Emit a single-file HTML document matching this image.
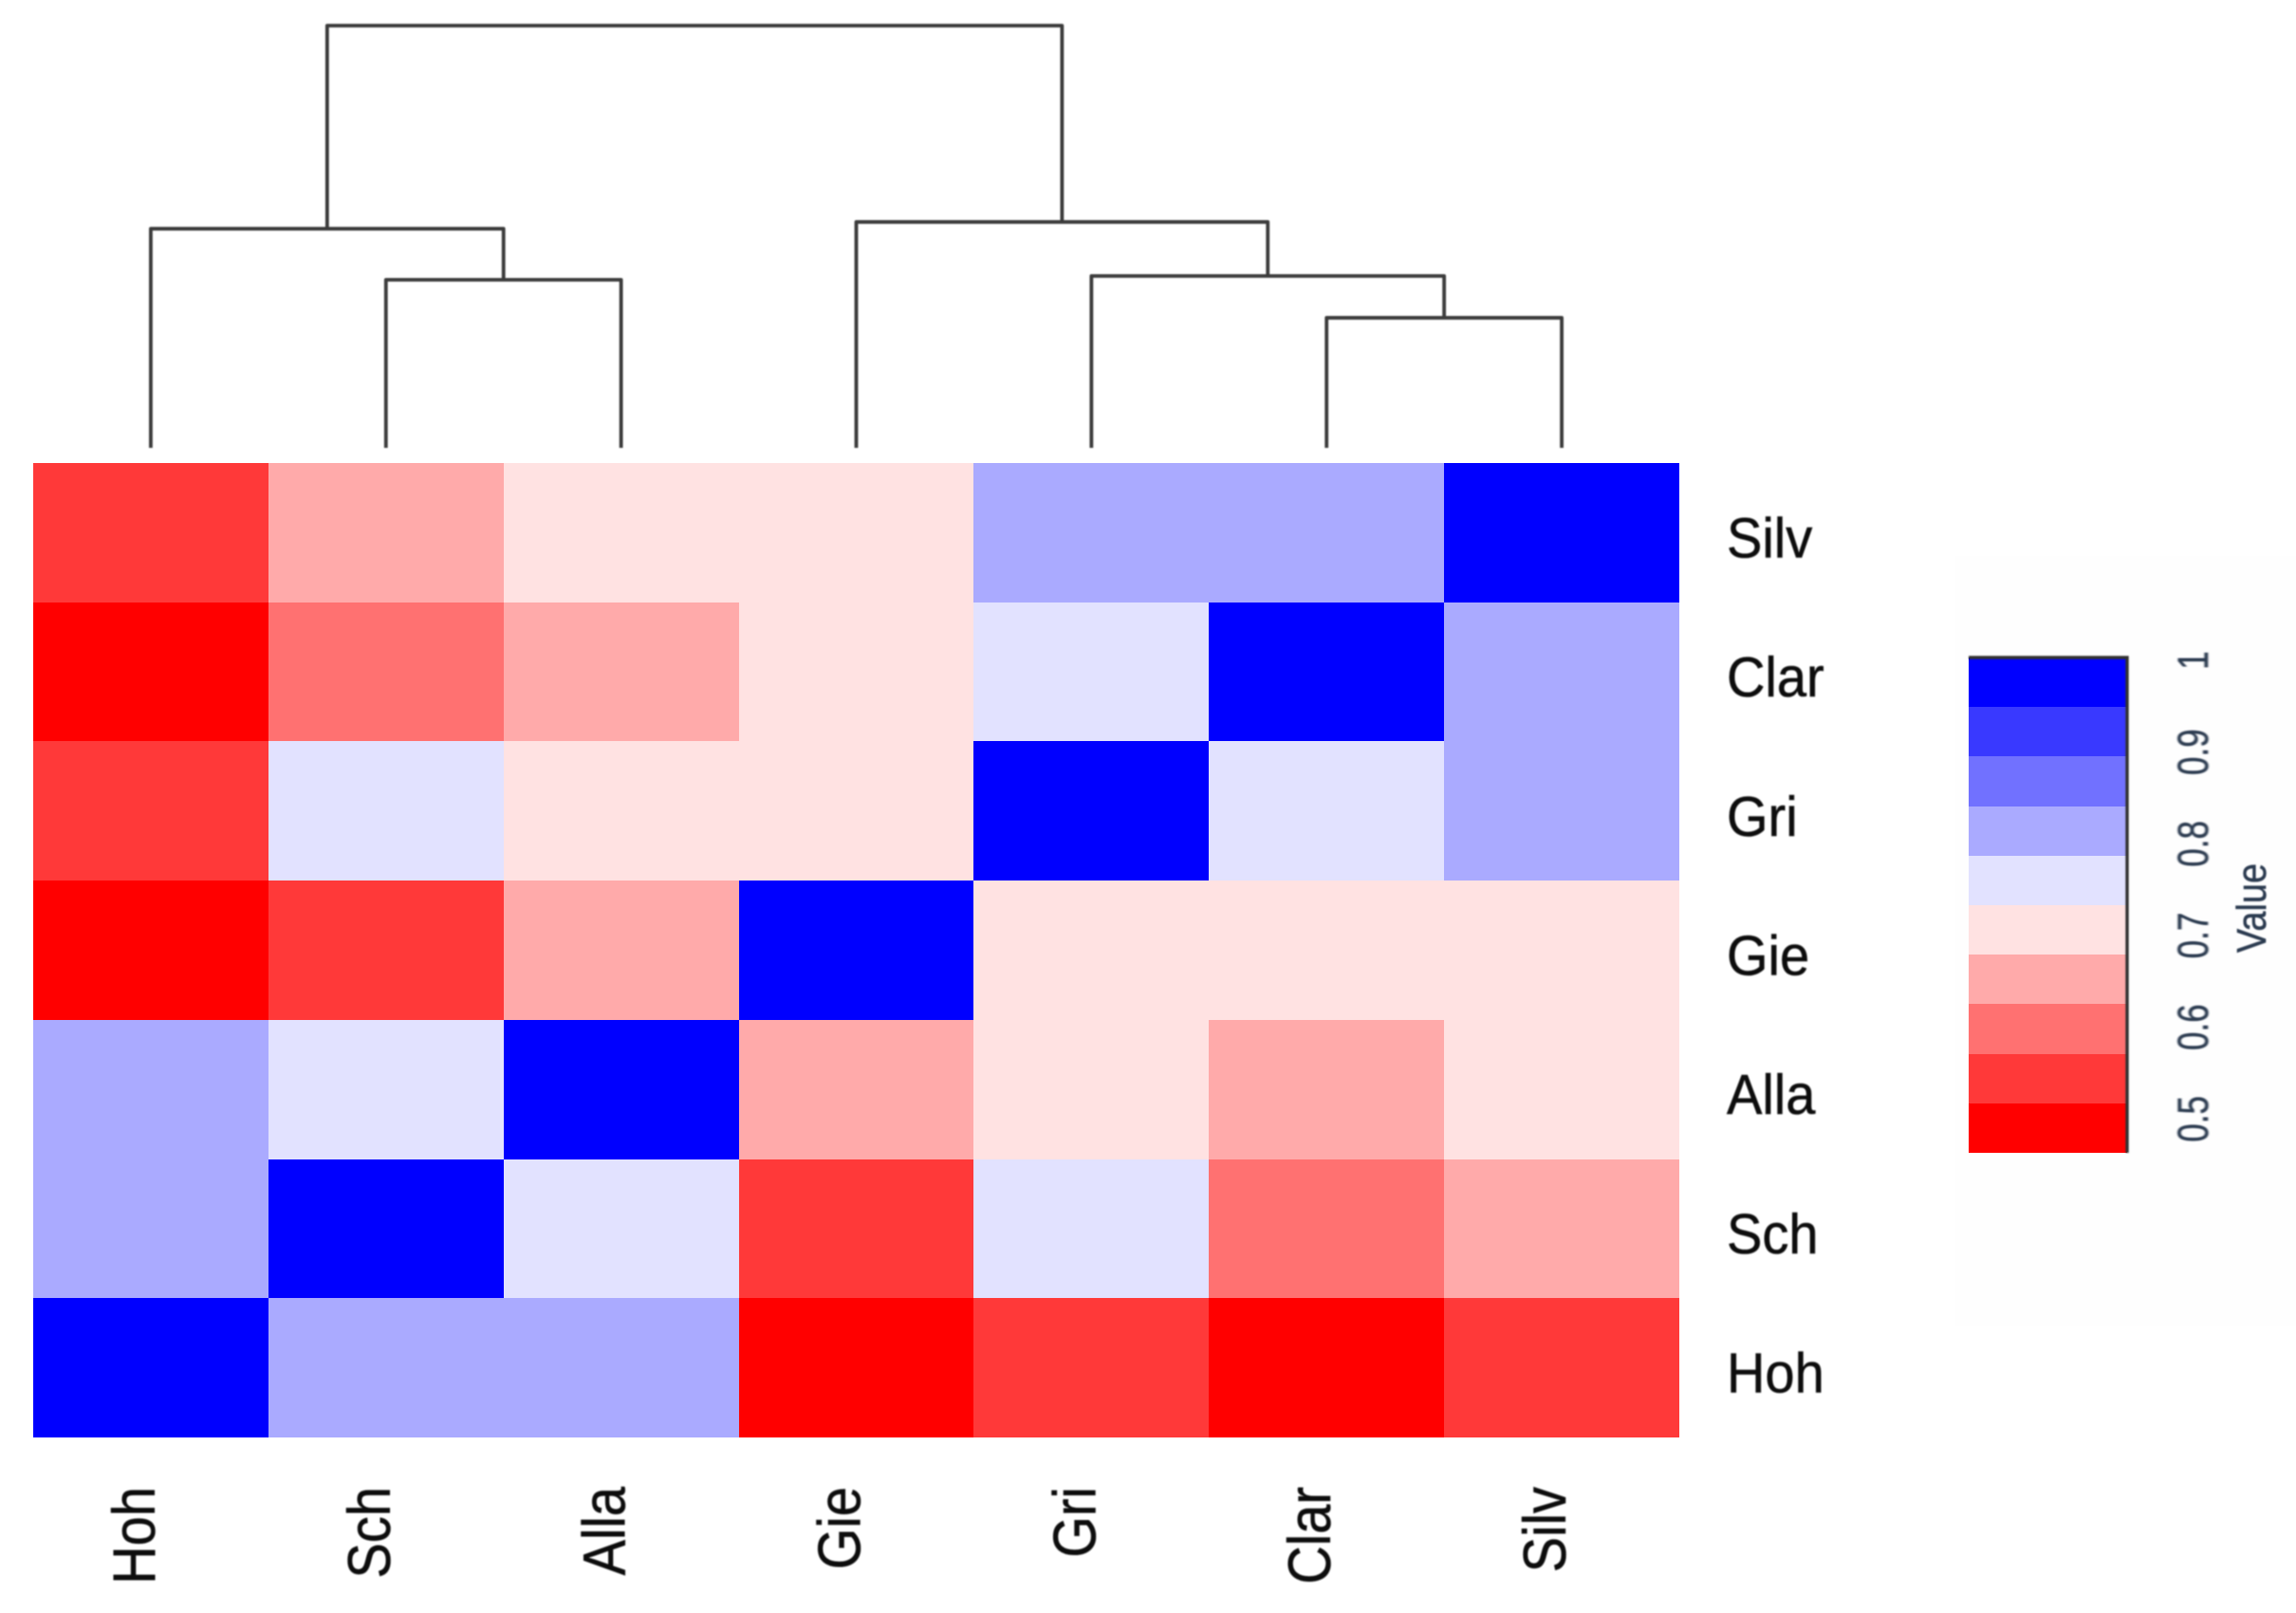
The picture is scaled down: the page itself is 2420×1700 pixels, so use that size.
<!DOCTYPE html>
<html lang="en">
<head>
<meta charset="utf-8">
<title>Similarity heatmap with dendrogram</title>
<style>
html,body{margin:0;padding:0;background:#fff;width:2420px;height:1700px;overflow:hidden}
svg{display:block}
text{font-family:"Liberation Sans",Arial,sans-serif}
</style>
</head>
<body>
<svg id="chart" xmlns="http://www.w3.org/2000/svg" width="2420" height="1700" viewBox="0 0 2420 1700">
  <defs>
    <filter id="soft" x="-5%" y="-5%" width="110%" height="110%"><feGaussianBlur stdDeviation="0.8"/></filter>
  </defs>
  <rect x="0" y="0" width="2420" height="1700" fill="#ffffff"/>
  <rect x="2061" y="586" width="359" height="811" fill="#fefefe"/>
  <g id="cells" shape-rendering="crispEdges"></g>
  <g id="dendro" fill="none" stroke="#3a3a3a" stroke-width="3.8" stroke-linejoin="round" filter="url(#soft)"></g>
  <g id="rowLabels" fill="#111" stroke="#111" stroke-width="0.5" font-size="56" filter="url(#soft)"></g>
  <g id="colLabels" fill="#111" stroke="#111" stroke-width="0.5" font-size="56" filter="url(#soft)"></g>
  <g id="legend"></g>
</svg>
<script>
// ---- data ----
const columnNames = ['Hoh', 'Sch', 'Alla', 'Gie', 'Gri', 'Clar', 'Silv'];
const rowNames = ['Silv', 'Clar', 'Gri', 'Gie', 'Alla', 'Sch', 'Hoh'];
const valuesSilv = [0.54, 0.65, 0.70, 0.70, 0.81, 0.81, 1.00];
const valuesClar = [0.49, 0.60, 0.65, 0.70, 0.76, 1.00, 0.81];
const valuesGri  = [0.54, 0.76, 0.70, 0.70, 1.00, 0.76, 0.81];
const valuesGie  = [0.49, 0.54, 0.65, 1.00, 0.70, 0.70, 0.70];
const valuesAlla = [0.81, 0.76, 1.00, 0.65, 0.70, 0.65, 0.70];
const valuesSch  = [0.81, 1.00, 0.76, 0.54, 0.76, 0.60, 0.65];
const valuesHoh  = [1.00, 0.81, 0.81, 0.49, 0.54, 0.49, 0.54];
const matrixRows = [valuesSilv, valuesClar, valuesGri, valuesGie, valuesAlla, valuesSch, valuesHoh];
const palette = ['#ff0000', '#ff3939', '#ff7171', '#ffaaaa', '#ffe2e2', '#e2e2ff', '#aaaaff', '#7171ff', '#3939ff', '#0000ff'];
const legendTicks = [1, 0.9, 0.8, 0.7, 0.6, 0.5];
const legendTickLabels = ['1', '0.9', '0.8', '0.7', '0.6', '0.5'];
const valueMin = 0.46;
const valueMax = 1;
// dendrogram merges: a/b are column names or earlier merge ids; heights are relative to the root
const mergeIds = ['SA', 'HSA', 'CS', 'GCS', 'GGCS', 'root'];
const mergeLeft = ['Sch', 'Hoh', 'Clar', 'Gri', 'Gie', 'HSA'];
const mergeRight = ['Alla', 'SA', 'Silv', 'CS', 'GCS', 'GGCS'];
const mergeHeights = [0.398, 0.519, 0.308, 0.407, 0.535, 1];

// ---- axis functions ----
const NS = 'http://www.w3.org/2000/svg';
const plotLeft = 35, plotRight = 1770, plotTop = 488, plotBottom = 1515;
const xCol = i => plotLeft + i * (plotRight - plotLeft) / columnNames.length;
const yRow = i => plotTop + i * (plotBottom - plotTop) / rowNames.length;
const dendroBase = 472, dendroTop = 27;
const yHeight = h => dendroBase - h * (dendroBase - dendroTop);
const legendTop = 693, legendBottom = 1215, legendLeft = 2075, legendRight = 2242;
const yLegend = v => legendTop + (valueMax - v) * (legendBottom - legendTop) / (valueMax - valueMin);
const colorFor = v => {
  const k = Math.floor((v - valueMin) / (valueMax - valueMin) * palette.length);
  return palette[Math.max(0, Math.min(palette.length - 1, k))];
};
const el = (tag, attrs) => {
  const node = document.createElementNS(NS, tag);
  for (const k in attrs) node.setAttribute(k, attrs[k]);
  return node;
};

// ---- heatmap cells ----
const cellsG = document.getElementById('cells');
matrixRows.forEach((vals, r) => {
  vals.forEach((v, c) => {
    const rect = el('rect', {
      x: Math.round(xCol(c)), y: Math.round(yRow(r)),
      width: Math.round(xCol(c + 1)) - Math.round(xCol(c)),
      height: Math.round(yRow(r + 1)) - Math.round(yRow(r)),
      fill: colorFor(v)
    });
    
    
    cellsG.appendChild(rect);
  });
});

// ---- dendrogram ----
const dendroG = document.getElementById('dendro');
const nodePos = {};
columnNames.forEach((n, i) => { nodePos[n] = { x: (xCol(i) + xCol(i + 1)) / 2, y: dendroBase }; });
mergeIds.forEach((id, i) => {
  const a = nodePos[mergeLeft[i]], b = nodePos[mergeRight[i]];
  const y = yHeight(mergeHeights[i]);
  const path = el('path', { d: 'M' + a.x + ' ' + a.y + 'V' + y + 'H' + b.x + 'V' + b.y });
  
  
  dendroG.appendChild(path);
  nodePos[id] = { x: (a.x + b.x) / 2, y: y };
});

// ---- row labels ----
const rowG = document.getElementById('rowLabels');
rowNames.forEach((n, r) => {
  const t = el('text', { transform: 'translate(1820,' + ((yRow(r) + yRow(r + 1)) / 2 + 26) + ') scale(1,1.06)' });
  t.textContent = n;
  
  
  rowG.appendChild(t);
});

// ---- column labels ----
const colG = document.getElementById('colLabels');
columnNames.forEach((n, c) => {
  const cx = (xCol(c) + xCol(c + 1)) / 2;
  const t = el('text', { 'text-anchor': 'end', transform: 'translate(' + (cx + 4) + ',1567) rotate(-90) scale(1,1.12)' });
  t.textContent = n;
  
  
  colG.appendChild(t);
});

// ---- legend ----
const legendG = document.getElementById('legend');
palette.forEach((color, i) => {
  const step = (valueMax - valueMin) / palette.length;
  const hi = valueMin + (i + 1) * step, lo = valueMin + i * step;
  const band = el('rect', {
    x: legendLeft, y: Math.round(yLegend(hi)), width: legendRight - legendLeft,
    height: Math.round(yLegend(lo)) - Math.round(yLegend(hi)), fill: color, 'shape-rendering': 'crispEdges'
  });
  
  
  legendG.appendChild(band);
});
const axisLine = el('path', {
  d: 'M' + legendLeft + ' ' + legendTop + 'H' + legendRight + 'V' + legendBottom,
  fill: 'none', stroke: '#333', 'stroke-width': 3.4, filter: 'url(#soft)'
});


legendG.appendChild(axisLine);
legendTicks.forEach((v, i) => {
  const y = yLegend(v);
  const tick = el('line', { x1: legendRight, x2: legendRight + 23, y1: y, y2: y, stroke: '#333', 'stroke-width': 3.4, filter: 'url(#soft)' });
  
  
  legendG.appendChild(tick);
  const label = el('text', {
    'text-anchor': 'middle', 'font-size': 35, fill: '#2b3a50', stroke: '#2b3a50', 'stroke-width': 0.4, filter: 'url(#soft)',
    transform: 'translate(2327,' + (y + 3) + ') rotate(-90) scale(1,1.3)'
  });
  label.textContent = legendTickLabels[i];
  
  
  legendG.appendChild(label);
});
const valueTitle = el('text', {
  'text-anchor': 'middle', 'font-size': 38, fill: '#2b3a50', stroke: '#2b3a50', 'stroke-width': 0.4, filter: 'url(#soft)',
  transform: 'translate(2388,957) rotate(-90) scale(1,1.15)'
});
valueTitle.textContent = 'Value';


legendG.appendChild(valueTitle);
</script>
</body>
</html>
